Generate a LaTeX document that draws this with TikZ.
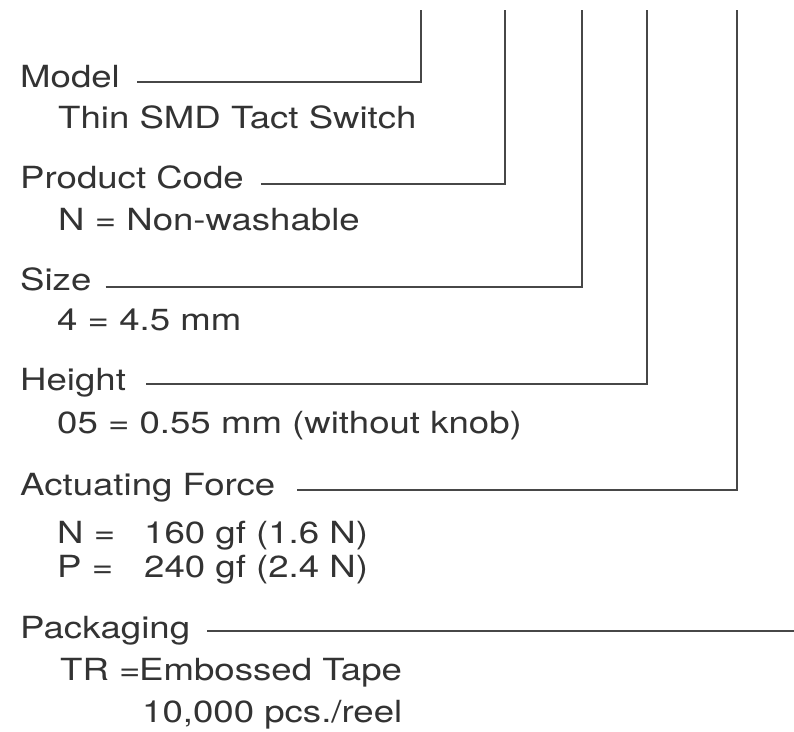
\documentclass[tikz,border=0pt]{standalone}
\usepackage{fontspec}
\setmainfont{TeX Gyre Heros}[FakeStretch=1.2]
\usepackage{xcolor}
\usetikzlibrary{positioning}
\definecolor{ink}{HTML}{333333}
\definecolor{rule}{HTML}{474747}

\begin{document}
\begin{tikzpicture}[x=1pt,y=-1pt,font=\fontsize{30.5}{36}\selectfont,
  lbl/.style={anchor=base west,inner sep=0pt,text=ink},
  lead/.style={draw=rule,line width=2.8pt}]
  \useasboundingbox (0,0) rectangle (794,731);
  % tops of the code columns
  \coordinate (topModel) at (421,10);
  \coordinate (topCode) at (505,10);
  \coordinate (topSize) at (582,10);
  \coordinate (topHeight) at (647,10);
  \coordinate (topForce) at (737,10);
  \coordinate (edgeR) at (794,631);
  % fields
  \node[lbl] (model) at (20,87) {Model};
  \node[lbl] (modelV) at (58,128) {Thin SMD Tact Switch};
  \node[lbl] (code) at (20,188) {Product Code};
  \node[lbl] (codeV) at (58,230) {N = Non-washable};
  \node[lbl] (size) at (20,290) {Size};
  \node[lbl] (sizeV) at (57,330) {4 = 4.5 mm};
  \node[lbl] (height) at (20,390) {Height};
  \node[lbl] (heightV) at (57,433) {05 = 0.55 mm (without knob)};
  \node[lbl] (force) at (20,495) {Actuating Force};
  \node[lbl] (forceN) at (57,543) {\makebox[87pt][l]{N =}160 gf (1.6 N)};
  \node[lbl] (forceP) at (57,577) {\makebox[87pt][l]{P =}240 gf (2.4 N)};
  \node[lbl] (pack) at (20,638) {Packaging};
  \node[lbl] (packTR) at (60,680) {\makebox[79pt][l]{TR =}Embossed Tape};
  \node[lbl] (packQty) at (142,722) {10,000 pcs./reel};
  % leaders
  \draw[lead] ([xshift=17pt,yshift=5pt]model.base east) -| (topModel);
  \draw[lead] ([xshift=17pt,yshift=4pt]code.base east) -| (topCode);
  \draw[lead] ([xshift=14pt,yshift=3pt]size.base east) -| (topSize);
  \draw[lead] ([xshift=20pt,yshift=6pt]height.base east) -| (topHeight);
  \draw[lead] ([xshift=22pt,yshift=5pt]force.base east) -| (topForce);
  \draw[lead] ([xshift=17pt,yshift=7pt]pack.base east) coordinate (p0) -- (p0 -| edgeR);
\end{tikzpicture}
\end{document}
